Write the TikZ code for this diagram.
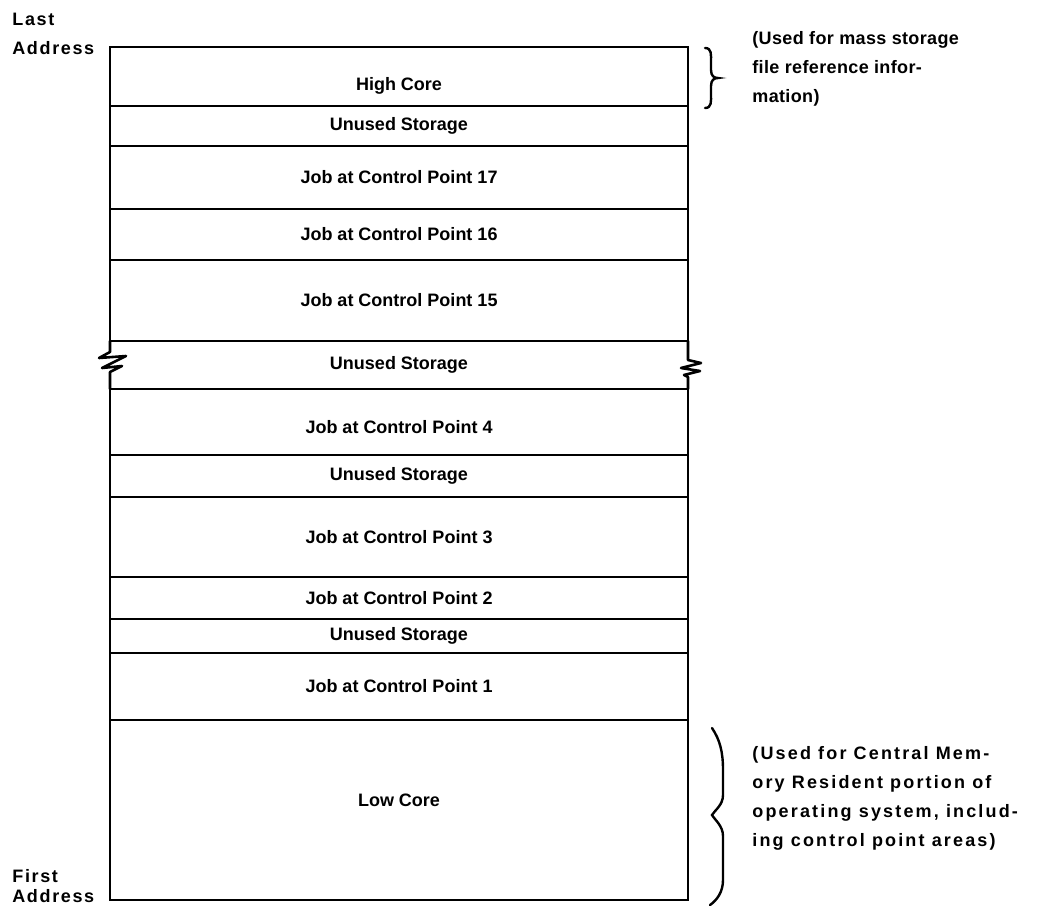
\documentclass[tikz,border=0pt]{standalone}
\usepackage{fontspec}
\usepackage{tikz}
\usetikzlibrary{positioning}
\setmainfont{Liberation Sans}
\newcommand{\memfont}{\fontsize{9}{14.5}\selectfont\bfseries}
\newcommand{\memshift}[2]{\raisebox{#1}[0pt][0pt]{#2}}
\tikzset{
  memrow/.style={draw, line width=1.3pt, minimum width=289pt, inner sep=0pt, outer sep=0pt, font=\memfont},
  memgap/.style={minimum width=289pt, inner sep=0pt, outer sep=0pt, font=\memfont},
  memnote/.style={anchor=west, align=left, inner sep=0pt, font=\memfont},
  membrace/.style={line width=1.2pt, line cap=round},
  membreak/.style={line width=1.3pt, line join=round, line cap=round}
}

\begin{document}
\begin{tikzpicture}[x=0.5pt, y=-0.5pt, node distance=0pt]
  \useasboundingbox (0,0) rectangle (1037,911);
  % memory map, top to bottom
  \node[memrow, minimum height=29.5pt, anchor=north] (highcore) at (399,47) {\memshift{-7pt}{High Core}};
  \node[memrow, minimum height=20pt, below=of highcore] (unuseda) {Unused Storage};
  \node[memrow, minimum height=31.5pt, below=of unuseda] (cpseventeen) {Job at Control Point 17};
  \node[memrow, minimum height=25.5pt, below=of cpseventeen] (cpsixteen) {Job at Control Point 16};
  \node[memrow, minimum height=40.5pt, below=of cpsixteen] (cpfifteen) {Job at Control Point 15};
  \node[memgap, minimum height=24pt, below=of cpfifteen] (gap) {Unused Storage};
  \node[memrow, minimum height=33pt, below=of gap] (cpfour) {\memshift{-5.7pt}{Job at Control Point 4}};
  \node[memrow, minimum height=21pt, below=of cpfour] (unusedb) {Unused Storage};
  \node[memrow, minimum height=40pt, below=of unusedb] (cpthree) {Job at Control Point 3};
  \node[memrow, minimum height=21pt, below=of cpthree] (cptwo) {Job at Control Point 2};
  \node[memrow, minimum height=17pt, below=of cptwo] (unusedc) {Unused Storage};
  \node[memrow, minimum height=33.5pt, below=of unusedc] (cpone) {Job at Control Point 1};
  \node[memrow, minimum height=90pt, below=of cpone] (lowcore) {\memshift{1.8pt}{Low Core}};

  % break marks
  \draw[membreak] (gap.north west) -- ++(0,11) -- ++(-11,6) -- ++(27,-2) -- ++(-24,12)
    -- ++(20,-2) -- ++(-12,6) -- (gap.south west);
  \draw[membreak] (gap.north east) -- ++(0,19) -- ++(13,3) -- ++(-20,5) -- ++(19,3)
    -- ++(-16,4) -- ++(4,2) -- (gap.south east);

  % address labels
  \node[memnote, font=\memfont\addfontfeature{LetterSpace=9}] (lastaddr) at (12,34) {Last\\Address};
  \node[memnote, font=\fontsize{9}{10}\selectfont\bfseries\addfontfeature{LetterSpace=9}] (firstaddr) at (12,886) {First\\Address};

  % braces and notes
  \draw[membrace] (705,48) .. controls (712,48) and (711,55) .. (711,62) -- (711,70)
    .. controls (711,76) and (714,78) .. (718,78) .. controls (714,78) and (711,80) .. (711,86)
    -- (711,94) .. controls (711,101) and (712,108) .. (705,108);
  \node[memnote, font=\memfont\addfontfeature{LetterSpace=2}] (highnote) at (752,69) {(Used for mass storage\\file reference infor-\\mation)};
  \draw[membrace] (712,728) .. controls (720,740) and (723,752) .. (723,770) -- (723,795)
    .. controls (723,805) and (715,810) .. (712,815) .. controls (715,820) and (723,826) .. (723,836)
    -- (723,880) .. controls (723,892) and (717,900) .. (710,905);
  \node[memnote, font=\memfont\addfontfeature{LetterSpace=12}] (lownote) at (752,798) {(Used for Central Mem-\\ory Resident portion of\\operating system, includ-\\ing control point areas)};
\end{tikzpicture}
\end{document}
